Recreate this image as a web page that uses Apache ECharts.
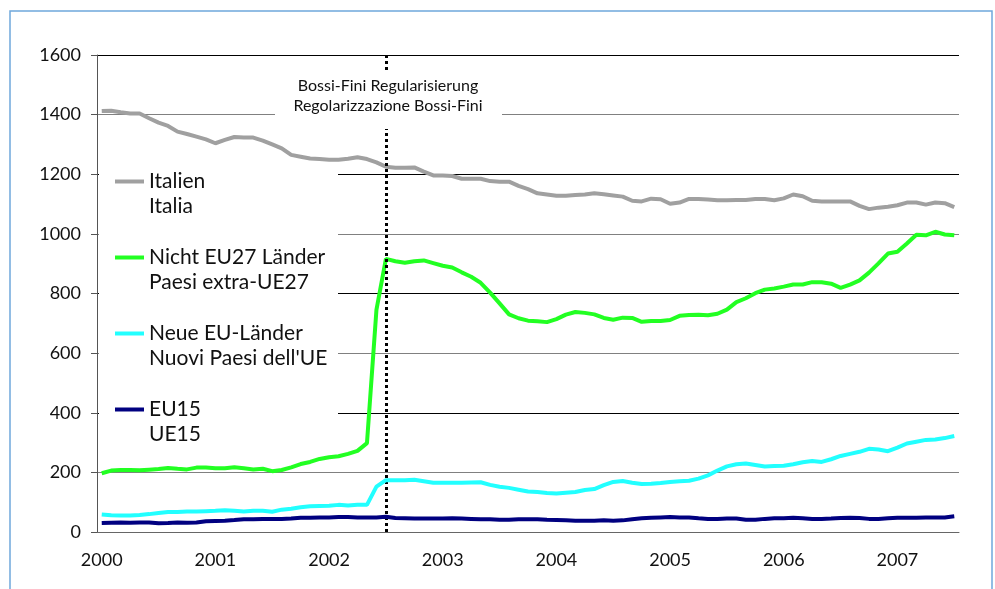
<!DOCTYPE html>
<html>
<head>
<meta charset="utf-8">
<script src="https://cdn.jsdelivr.net/npm/echarts@6/dist/echarts.min.js"></script>
<style>
  html, body { margin: 0; padding: 0; background: #fff; }
  #chart { width: 995px; height: 589px; }
</style>
</head>
<body>
<div id="chart"></div>
<script>
document.addEventListener("DOMContentLoaded", () => {
    // Monatswerte Jan 2000 - Jul 2007
    const years = ['2000', '2001', '2002', '2003', '2004', '2005', '2006', '2007'];
    const monthsPerYear = 12;
    const monthCount = 91;

    const italien = [
        1412, 1413, 1408, 1404, 1404, 1388, 1373, 1362, 1343, 1335, 1326, 1317,
        1304, 1315, 1325, 1323, 1323, 1313, 1300, 1287, 1265, 1259, 1253, 1251,
        1249, 1249, 1252, 1257, 1251, 1240, 1225, 1222, 1222, 1223, 1209, 1196,
        1196, 1194, 1185, 1185, 1185, 1177, 1175, 1175, 1161, 1150, 1136, 1132,
        1128, 1128, 1130, 1132, 1136, 1133, 1129, 1125, 1111, 1109, 1118, 1116,
        1101, 1105, 1117, 1117, 1115, 1113, 1113, 1114, 1114, 1117, 1117, 1113,
        1119, 1132, 1126, 1111, 1109, 1109, 1109, 1109, 1094, 1083, 1088, 1091,
        1096, 1105, 1105, 1098, 1105, 1103, 1090
    ];
    const nichtEU27 = [
        197, 206, 208, 208, 207, 209, 211, 215, 212, 210, 216, 216,
        214, 214, 217, 214, 210, 212, 204, 208, 217, 228, 235, 245,
        251, 254, 262, 272, 298, 745, 916, 908, 903, 908, 911, 902,
        893, 887, 871, 856, 836, 803, 767, 730, 717, 709, 707, 704,
        714, 729, 738, 735, 730, 718, 712, 719, 718, 705, 708, 708,
        711, 725, 728, 729, 727, 732, 746, 771, 784, 801, 813, 817,
        823, 830, 830, 838, 838, 833, 819, 830, 844, 870, 901, 934,
        940, 968, 997, 995, 1007, 998, 995
    ];
    const neueEU = [
        59, 56, 55, 55, 57, 60, 64, 67, 67, 69, 69, 70,
        71, 73, 71, 69, 71, 71, 68, 75, 78, 83, 86, 87,
        88, 91, 89, 91, 91, 152, 174, 174, 174, 175, 170, 165,
        165, 165, 165, 166, 167, 158, 152, 148, 142, 136, 134, 131,
        129, 132, 134, 141, 144, 157, 168, 171, 165, 161, 162, 164,
        168, 170, 172, 179, 190, 206, 220, 227, 230, 225, 220, 221,
        222, 227, 234, 238, 235, 244, 255, 262, 269, 279, 277, 271,
        283, 297, 303, 309, 310, 315, 322
    ];
    const eu15 = [
        30, 31, 32, 31, 32, 32, 29, 30, 32, 31, 32, 36,
        37, 38, 40, 43, 43, 44, 44, 44, 45, 48, 48, 49,
        49, 50, 50, 49, 49, 49, 51, 47, 46, 45, 45, 45,
        45, 46, 45, 44, 43, 43, 41, 41, 43, 43, 43, 41,
        40, 39, 38, 38, 38, 39, 38, 39, 43, 46, 48, 49,
        50, 49, 49, 46, 44, 44, 45, 45, 41, 41, 44, 46,
        46, 48, 46, 44, 44, 45, 47, 48, 47, 44, 44, 46,
        48, 48, 48, 49, 49, 49, 53
    ];

    const seriesNames = [
        'Italien\nItalia',
        'Nicht EU27 Länder\nPaesi extra-UE27',
        'Neue EU-Länder\nNuovi Paesi dell\'UE',
        'EU15\nUE15'
    ];
    const seriesColors = ['#a0a0a0', '#22ff22', '#22ffff', '#000080'];
    const seriesData = [italien, nichtEU27, neueEU, eu15];

    const regIndex = 30; // Juli 2002
    const annotation = 'Bossi-Fini Regularisierung\nRegolarizzazione Bossi-Fini';

    // Kategorien: ein Eintrag je Monat, Beschriftung nur im Januar
    let months = [];
    for (let i = 0; i < monthCount; i++) {
        months.push(years[Math.floor(i / monthsPerYear)] + '-' + ((i % monthsPerYear) + 1));
    }

    const font = 'Lato';

    let series = seriesData.map((d, i) => ({
        name: seriesNames[i],
        type: 'line',
        data: d,
        showSymbol: false,
        color: seriesColors[i],
        lineStyle: { width: 4, color: seriesColors[i] },
        z: 3 + i
    }));
    series[0].markLine = {
        silent: true,
        symbol: 'none',
        label: { show: false },
        lineStyle: { color: '#000', width: 3, type: [3, 3] },
        data: [{ xAxis: regIndex }]
    };

    echarts.init(document.getElementById('chart')).setOption({
        animation: false,
        backgroundColor: '#fff',
        grid: { left: 97, right: 36, top: 55, bottom: 57 },
        legend: {
            orient: 'vertical',
            left: 115,
            top: 144,
            padding: 0,
            itemGap: 1,
            icon: 'rect',
            itemWidth: 29,
            itemHeight: 4,
            selectedMode: false,
            // Leerzeile davor, damit das Symbol auf Höhe der ersten Zeile sitzt
            formatter: name => '\n' + name,
            textStyle: {
                fontFamily: font,
                fontSize: 21,
                lineHeight: 25,
                color: '#111'
            },
            data: seriesNames
        },
        xAxis: {
            type: 'category',
            data: months,
            boundaryGap: true,
            axisLine: { lineStyle: { color: '#666', width: 1 } },
            axisTick: { interval: 11, length: 6, lineStyle: { color: '#666' } },
            axisLabel: {
                interval: 11,
                margin: 19,
                fontFamily: font,
                fontSize: 18,
                color: '#111',
                formatter: v => v.split('-')[0]
            },
            splitLine: { show: false }
        },
        yAxis: {
            type: 'value',
            min: 0,
            max: 1600,
            interval: 200,
            axisLine: { show: true, lineStyle: { color: '#555', width: 1 } },
            axisTick: { show: true, length: 6, lineStyle: { color: '#555' } },
            axisLabel: {
                margin: 16, fontFamily: font, fontSize: 18, color: '#111',
                formatter: v => String(v)
            },
            splitLine: { lineStyle: { color: ['#000', '#808080'], width: 1 } }
        },
        graphic: [
            {
                type: 'rect', z: 20, silent: true,
                shape: { x: 10, y: 11, width: 982, height: 620 },
                style: { fill: 'none', stroke: '#6fa8dc', lineWidth: 1.5 }
            },
            {
                type: 'rect', z: 1, silent: true,
                shape: { x: 99, y: 165, width: 239, height: 285 },
                style: { fill: '#fff' }
            },
            {
                type: 'rect', z: 10, silent: true,
                shape: { x: 275, y: 73, width: 227, height: 56 },
                style: { fill: '#fff' }
            },
            {
                type: 'text', z: 11, silent: true,
                x: 388, y: 96,
                style: {
                    text: annotation,
                    fontFamily: font,
                    fontSize: 16,
                    lineHeight: 20,
                    fill: '#111',
                    align: 'center',
                    verticalAlign: 'middle'
                }
            }
        ],
        series: series
    });
});
</script>
</body>
</html>
